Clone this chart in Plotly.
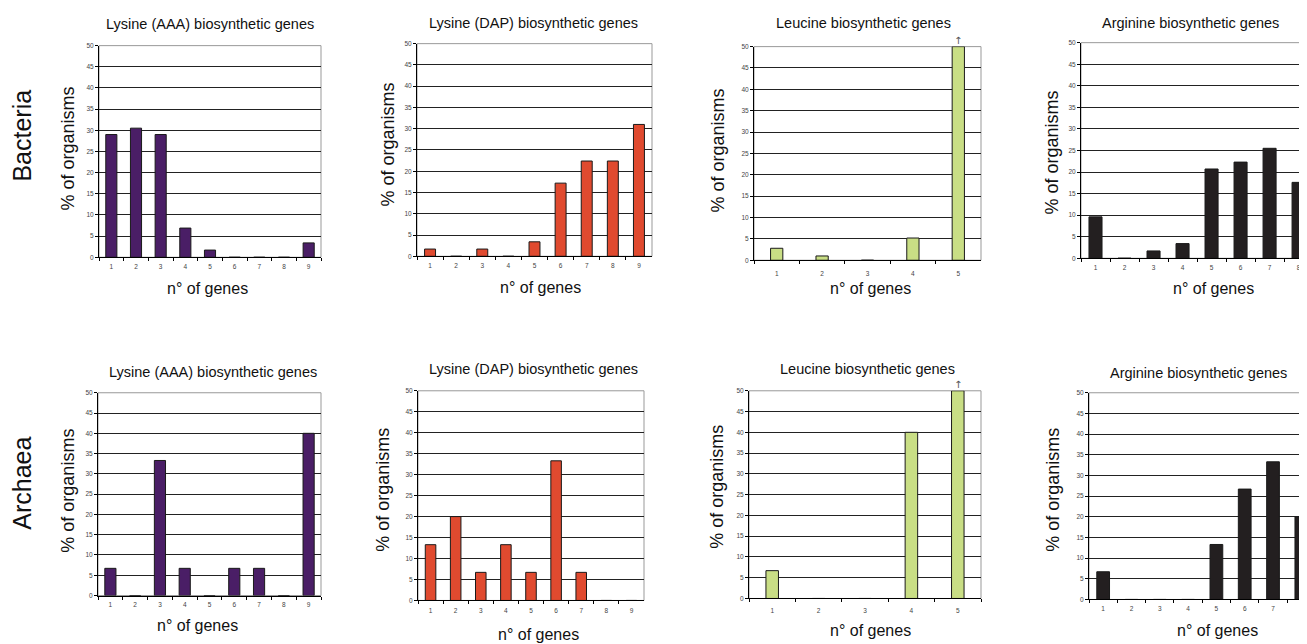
import plotly.graph_objects as go

W, H = 1307, 644
OFF = 8  # the page body adds an 8px margin around the figure
FW, FH = W - OFF, H - OFF

# ---------------- data ----------------
genes9 = ["1", "2", "3", "4", "5", "6", "7", "8", "9"]
genes5 = ["1", "2", "3", "4", "5"]
genes8 = ["1", "2", "3", "4", "5", "6", "7", "8"]

bac_lys_aaa = [29.0, 30.5, 29.0, 6.9, 1.7, 0, 0, 0, 3.4]
bac_lys_dap = [1.7, 0, 1.7, 0, 3.4, 17.2, 22.4, 22.4, 31.0]
bac_leu = [2.8, 1.0, 0, 5.2, 50.0]
bac_arg = [9.6, 0, 1.7, 3.4, 20.7, 22.3, 25.5, 17.6]

arc_lys_aaa = [6.7, 0, 33.3, 6.7, 0, 6.7, 6.7, 0, 40.0]
arc_lys_dap = [13.3, 20.0, 6.7, 13.3, 6.7, 33.3, 6.7, 0, 0]
arc_leu = [6.7, 0, 0, 40.0, 50.0]
arc_arg = [6.7, 0, 0, 0, 13.3, 26.7, 33.3, 20.0]

titles = ["Lysine (AAA) biosynthetic genes", "Lysine (DAP) biosynthetic genes",
          "Leucine biosynthetic genes", "Arginine biosynthetic genes"]
row_labels = ["Bacteria", "Archaea"]
y_title = "% of organisms"
x_title = "n\u00b0 of genes"

# ---------------- layout geometry (px in the screenshot) ----------------
PURPLE, RED, GREEN, BLACK = "#4a1e66", "#e04a2f", "#c9de85", "#231f20"

panels = [
    # cats, values, color, barwidth, (l, r, t, b), xmax_index, title pos, ytitle pos, xtitle pos, ticklabel standoff
    (genes9, bac_lys_aaa, PURPLE, 0.45, (99, 321, 42, 256), 8.5, (210, 20), (68, 146), (207, 288), 3),
    (genes9, bac_lys_dap, RED, 0.42, (417, 652, 40, 255), 8.5, (533, 19), (388, 142), (540, 287), 3),
    (genes5, bac_leu, GREEN, 0.27, (754, 981, 43, 259), 4.5, (863, 19), (718, 148), (870, 288), 7),
    (genes8, bac_arg, BLACK, 0.45, (1081, 1307, 39, 257), 7.29, (1190, 19), (1052, 150), (1213, 288), 3),
    (genes9, arc_lys_aaa, PURPLE, 0.45, (98, 321, 393, 598), 8.5, (213, 372), (68, 492), (197, 628), 3),
    (genes9, arc_lys_dap, RED, 0.42, (418, 644, 391, 603), 8.5, (533, 369), (383, 491), (538, 637), 4),
    (genes5, arc_leu, GREEN, 0.27, (749, 981, 391, 601), 4.5, (867, 369), (717, 488), (870, 633), 6),
    (genes8, arc_arg, BLACK, 0.45, (1089, 1307, 393, 602), 7.2, (1198, 373), (1053, 491), (1217, 633), 3),
]

FONT = "Liberation Sans, Arial, sans-serif"


def px(x):
    return (x - OFF) / FW


def py(y):
    return 1 - (y - OFF) / FH


fig = go.Figure()
annotations = []
shapes = []
layout = {}

for i, (cats, vals, col, bw, (l, r, t, b), xmax, tpos, ypos, xpos, stand) in enumerate(panels):
    n = i + 1
    xa = "xaxis" if n == 1 else f"xaxis{n}"
    ya = "yaxis" if n == 1 else f"yaxis{n}"
    xr = "x" if n == 1 else f"x{n}"
    yr = "y" if n == 1 else f"y{n}"
    fig.add_trace(go.Bar(
        x=cats, y=vals, xaxis=xr, yaxis=yr, width=bw,
        marker=dict(color=col, line=dict(color="#1a1a1a", width=1)),
        showlegend=False, hoverinfo="x+y"))
    layout[xa] = dict(
        domain=[px(l), min(px(r), 1.0)], anchor=yr, type="category",
        range=[-0.5, xmax], showline=True, linecolor="#000", linewidth=1,
        ticks="outside", tickson="boundaries", ticklen=3, tickcolor="#000",
        showgrid=False, tickfont=dict(size=6.5, color="#444", family=FONT),
        ticklabelstandoff=stand, fixedrange=True)
    layout[ya] = dict(
        domain=[py(b), py(t)], anchor=xr, range=[0, 50], dtick=5,
        showline=True, linecolor="#000", linewidth=1, ticks="outside",
        ticklen=3, tickcolor="#000", showgrid=True, gridcolor="#222",
        gridwidth=1, zeroline=False,
        tickfont=dict(size=6.5, color="#444", family=FONT), fixedrange=True)
    shapes.append(dict(type="rect", xref=f"{xr} domain", yref=f"{yr} domain",
                       x0=0, x1=1, y0=0, y1=1, line=dict(color="#999", width=1),
                       layer="below"))
    annotations.append(dict(text=titles[i % 4], x=px(tpos[0]), y=py(tpos[1]),
                            xref="paper", yref="paper", showarrow=False,
                            xanchor="center", yanchor="middle",
                            font=dict(size=14.5, color="#111", family=FONT)))
    annotations.append(dict(text=y_title, x=px(ypos[0]), y=py(ypos[1]),
                            xref="paper", yref="paper", showarrow=False, textangle=-90,
                            xanchor="center", yanchor="middle",
                            font=dict(size=18, color="#111", family=FONT)))
    annotations.append(dict(text=x_title, x=px(xpos[0]), y=py(xpos[1]),
                            xref="paper", yref="paper", showarrow=False,
                            xanchor="center", yanchor="middle",
                            font=dict(size=16, color="#111", family=FONT)))
    if cats is genes5:
        # small up-arrow marking the bar truncated at the axis top
        frac = (len(cats) - 1 + 0.5) / (xmax + 0.5)
        ax_x = px(l) + frac * (px(r) - px(l))
        annotations.append(dict(text="\u2191", x=ax_x, y=py(t), xref="paper",
                                yref="paper", yshift=-1, showarrow=False,
                                xanchor="center", yanchor="bottom",
                                font=dict(size=10, color="#555", family="DejaVu Sans")))

for lab, yy in zip(row_labels, [133, 485]):
    annotations.append(dict(text=lab, x=px(22), y=py(yy), xref="paper", yref="paper",
                            showarrow=False, textangle=-90, xanchor="center",
                            yanchor="middle",
                            font=dict(size=25, color="#111", family=FONT)))

fig.update_layout(
    width=FW, height=FH, margin=dict(l=0, r=0, t=0, b=0),
    paper_bgcolor="white", plot_bgcolor="white",
    annotations=annotations, shapes=shapes, bargap=0.5,
    **layout)

fig.write_html("out.html")
